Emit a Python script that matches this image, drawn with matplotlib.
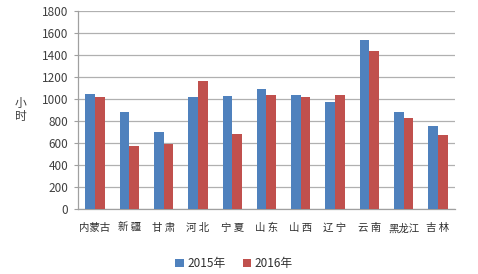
import numpy as np
import matplotlib
matplotlib.use("Agg")
import matplotlib.pyplot as plt

plt.rcParams['font.family'] = ['Noto Sans CJK SC', 'DejaVu Sans']

provinces = ["内蒙古", "新 疆", "甘 肃", "河 北", "宁 夏", "山 东", "山 西", "辽 宁", "云 南", "黑龙江", "吉 林"]
hours_2015 = [1045, 885, 697, 1021, 1027, 1088, 1039, 975, 1533, 885, 752]
hours_2016 = [1018, 573, 590, 1164, 682, 1039, 1021, 1039, 1433, 830, 673]

fig = plt.figure(figsize=(4.78, 2.74), dpi=100)
ax = fig.add_axes([0.163, 0.237, 0.789, 0.723])

x = np.arange(len(provinces))
w = 0.28
ax.bar(x - w / 2, hours_2015, w, color="#4F81BD", label="2015年", zorder=3)
ax.bar(x + w / 2, hours_2016, w, color="#C0504D", label="2016年", zorder=3)

ax.set_xlim(-0.5, len(provinces) - 0.5)
ax.set_ylim(0, 1800)
ax.set_yticks(range(0, 1801, 200))
ax.yaxis.grid(True, color="#B0B0B0", linewidth=0.9, zorder=0)

ax.set_xticks(x)
ax.set_xticklabels(provinces, fontsize=7.5, color="#303030")
ax.tick_params(axis="x", length=0, pad=10)
ax.tick_params(axis="y", labelsize=8.5, labelcolor="#404040", color="#A0A0A0", length=3, pad=4)

for side in ["top", "right"]:
    ax.spines[side].set_visible(False)
for side in ["left", "bottom"]:
    ax.spines[side].set_color("#A0A0A0")
    ax.spines[side].set_linewidth(0.9)

ax.set_ylabel("小\n时", rotation=0, fontsize=8.5, color="#404040", labelpad=15, va="center",
              linespacing=1.0)

fig.legend(loc="lower center", bbox_to_anchor=(0.49, -0.025), ncol=2, frameon=False, fontsize=8.5,
           handlelength=0.7, handleheight=0.7, handletextpad=0.3, columnspacing=1.5,
           labelcolor="#303030")

fig.savefig("out.png", dpi=100)
